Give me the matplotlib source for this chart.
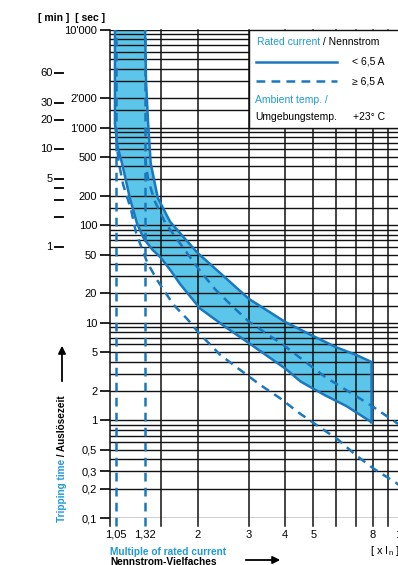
import matplotlib
matplotlib.use('Agg')
import matplotlib.pyplot as plt
from matplotlib.patches import Rectangle
from matplotlib.transforms import blended_transform_factory

plt.rcParams['font.family'] = ['Liberation Sans', 'DejaVu Sans']

# axis ticks
x_ticks = [1.05, 1.32, 2, 3, 4, 5, 8, 10]
x_labels = ['1,05', '1,32', '2', '3', '4', '5', '8', '10']
x_grid = [1.0, 1.5, 2, 3, 4, 5, 6, 7, 8, 9]
sec_ticks = [10000, 2000, 1000, 500, 200, 100, 50, 20, 10, 5, 2, 1, 0.5, 0.3, 0.2, 0.1]
sec_labels = ["10'000", "2'000", "1'000", '500', '200', '100', '50', '20', '10',
              '5', '2', '1', '0,5', '0,3', '0,2', '0,1']
min_ticks = [60, 30, 20, 10, 5, 4, 3, 2, 1]
min_labels = ['60', '30', '20', '10', '5', '', '', '', '1']
y_grid = [m * 10 ** e for e in range(-1, 4) for m in (1, 2, 3, 4, 5, 6, 7, 8, 9)] + \
         [15, 150, 1500, 10000]

# band < 6,5 A (solid)
lo_x = [1.04, 1.04, 1.06, 1.10, 1.17, 1.24, 1.31, 1.40, 1.49, 1.62, 1.74, 2.04, 2.5, 3.0, 4.0, 4.52, 5.5, 6.5, 7.87]
lo_t = [10000, 1100, 650, 430, 190, 103, 72, 56, 47, 34, 25, 14, 9.0, 6.2, 3.4, 2.5, 1.8, 1.4, 0.97]
up_x = [1.32, 1.33, 1.35, 1.38, 1.46, 1.61, 1.70, 1.80, 2.0, 2.4, 3.0, 4.0, 5.0, 6.0, 7.0, 7.87]
up_t = [10000, 3000, 1200, 430, 190, 108, 90, 74, 52, 32, 17.6, 10.2, 7.3, 5.6, 4.7, 4.0]

# >= 6,5 A (dashed)
dlo_x = [1.05, 1.07, 1.11, 1.18, 1.23, 1.34, 1.45, 1.65, 1.86, 2.01, 2.39, 2.76, 3.29, 3.86, 4.45,
         5.09, 6.06, 7.0, 8.06, 9.6, 10]
dlo_t = [800, 450, 260, 146, 83, 42, 27.6, 15.4, 10.6, 8.0, 4.7, 3.4, 2.3, 1.67, 1.2,
         0.91, 0.64, 0.44, 0.32, 0.23, 0.21]
dup_x = [1.32, 1.35, 1.42, 1.55, 1.79, 2.04, 2.30, 2.65, 3.0, 3.95, 5.5, 7.87, 10]
dup_t = [500, 300, 180, 105, 58, 34, 22, 14.5, 10.3, 5.9, 2.77, 1.43, 0.88]
ref_x = [1.05, 1.32]

LINE = '#1a78be'
FILL = '#5cc6ea'
TXT = '#1f9ad6'

W, H = 398, 565
fx = lambda px: px / W
fy = lambda py: 1 - py / H

fig = plt.figure(figsize=(W / 100, H / 100), dpi=100)
ax = fig.add_axes([fx(110), 47 / H, 291 / W, 488 / H])
ax.set_xscale('log')
ax.set_yscale('log')
ax.set_xlim(1, 10)
ax.set_ylim(0.1, 10000)
for s in ax.spines.values():
    s.set_visible(False)

# band
poly_x = lo_x + up_x[::-1]
poly_t = lo_t + up_t[::-1]
ax.fill(poly_x, poly_t, color=FILL, lw=0, zorder=1)

# grid
bx = blended_transform_factory(ax.transData, ax.transAxes)
for g in x_grid:
    ax.plot([g, g], [-0.017, 1], color='#111111', lw=1.1, transform=bx, clip_on=False, zorder=2)
for g in y_grid:
    ax.axhline(g, color='#111111', lw=1.0, zorder=2)

# curves
ax.plot(lo_x, lo_t, color=LINE, lw=1.8, zorder=3)
ax.plot(up_x, up_t, color=LINE, lw=1.8, zorder=3)
ax.plot([lo_x[-1], up_x[-1]], [lo_t[-1], up_t[-1]], color=LINE, lw=1.8, zorder=3)
dash = (0, (3.5, 2.5))
ax.plot(dlo_x, dlo_t, color=LINE, lw=1.8, ls=dash, zorder=3)
ax.plot(dup_x, dup_t, color=LINE, lw=1.8, ls=dash, zorder=3)
for r in ref_x:
    ax.plot([r, r], [-0.017, 1], color=LINE, lw=1.8, ls=dash, transform=bx, clip_on=False, zorder=3)

# ticks
ax.set_xticks(x_ticks, x_labels)
ax.xaxis.set_minor_locator(matplotlib.ticker.NullLocator())
ax.tick_params(axis='x', length=0, pad=8.5, labelsize=8)
ax.set_yticks(sec_ticks, sec_labels)
ax.yaxis.set_minor_locator(matplotlib.ticker.NullLocator())
ax.tick_params(axis='y', length=7.2, width=1.2, pad=2, labelsize=8)

# minutes column
by = blended_transform_factory(ax.transAxes, ax.transData)
for m, lab in zip(min_ticks, min_labels):
    ax.plot([-0.189, -0.162], [m * 60, m * 60], color='#111111', lw=1.4, transform=by, clip_on=False)
    if lab:
        ax.text(-0.197, m * 60, lab, transform=by, ha='right', va='center', fontsize=8)
fig.text(fx(38), fy(18), '[ min ]  [ sec ]', fontsize=7.5, weight='bold', va='center')

# axis titles
t1 = fig.text(fx(62), fy(522), 'Tripping time', rotation=90, ha='center', va='bottom',
              color=TXT, weight='bold', fontsize=7.2)
ax.annotate(' / Auslösezeit', xy=(0.5, 1), xycoords=t1, rotation=90, ha='center', va='bottom',
            weight='bold', fontsize=7.2)
ax.annotate('', xy=(fx(62), fy(343)), xytext=(fx(62), fy(384)), xycoords='figure fraction',
            arrowprops=dict(arrowstyle='-|>', color='black', lw=1.3, mutation_scale=11))
fig.text(fx(110), fy(552), 'Multiple of rated current', color=TXT, weight='bold', fontsize=7.3, va='center')
fig.text(fx(110), fy(562), 'Nennstrom-Vielfaches', weight='bold', fontsize=7.3, va='center')
ax.annotate('', xy=(fx(283), fy(560)), xytext=(fx(243), fy(560)), xycoords='figure fraction',
            arrowprops=dict(arrowstyle='-|>', color='black', lw=1.3, mutation_scale=11))
fig.text(fx(370), fy(551), r'[ x I$_\mathregular{n}$ ]', fontsize=8, va='center')

# legend box
ax.add_patch(Rectangle((0.4771, 0.8), 0.53, 0.2, transform=ax.transAxes, fc='white',
                       ec='#111111', lw=1.0, zorder=4, clip_on=False))
t2 = fig.text(fx(257), fy(42), 'Rated current', color=TXT, fontsize=7.5, va='center', zorder=5)
ax.annotate(' / Nennstrom', xy=(1, 0), xycoords=t2, va='bottom', fontsize=7.5, zorder=5)
fig.add_artist(plt.Line2D([fx(256), fx(337)], [fy(62), fy(62)], color=LINE, lw=1.8, zorder=5))
fig.add_artist(plt.Line2D([fx(256), fx(337)], [fy(81), fy(81)], color=LINE, lw=1.8, ls=dash, zorder=5))
fig.text(fx(352), fy(62), '< 6,5 A', fontsize=7.5, va='center', zorder=5)
fig.text(fx(352), fy(81), '≥ 6,5 A', fontsize=7.5, va='center', zorder=5)
fig.text(fx(255), fy(100), 'Ambient temp. /', color=TXT, fontsize=7.5, va='center', zorder=5)
fig.text(fx(255), fy(117), 'Umgebungstemp.', fontsize=7.5, va='center', zorder=5)
fig.text(fx(353), fy(117), '+23° C', fontsize=7.5, va='center', zorder=5)

fig.savefig('out.png', dpi=100)
